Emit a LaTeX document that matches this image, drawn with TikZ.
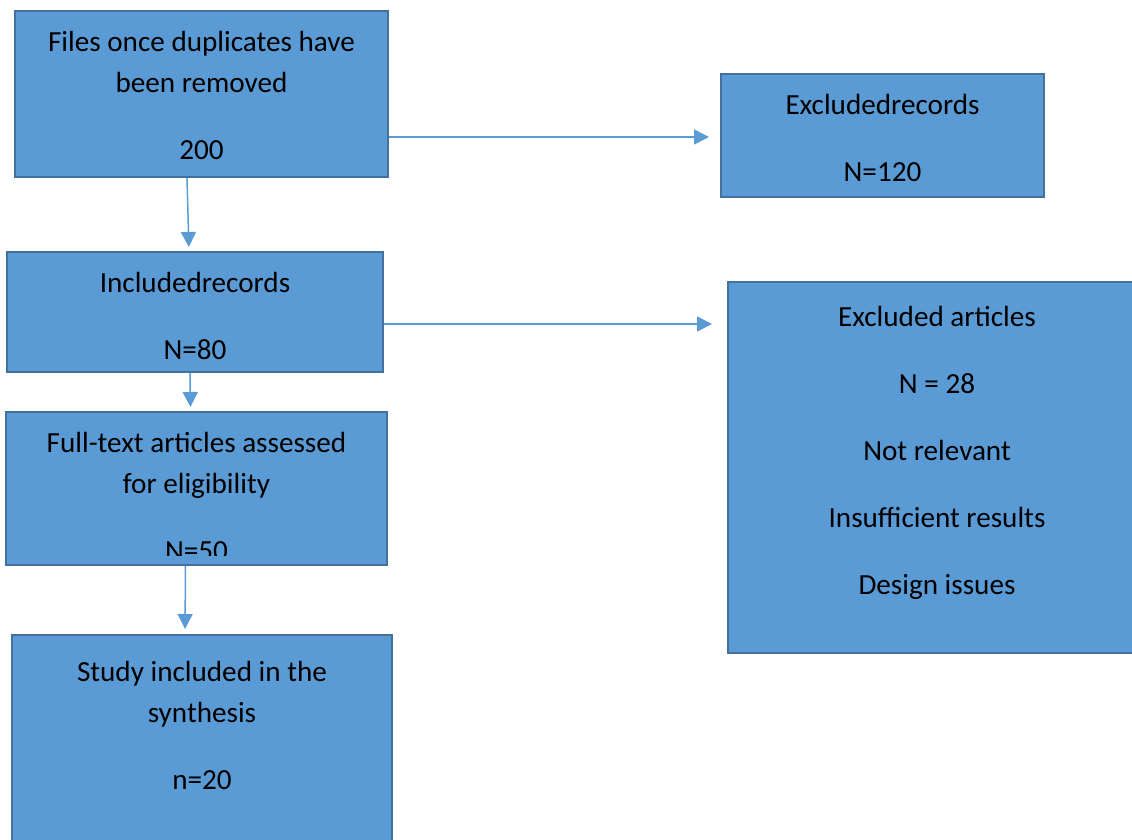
\documentclass[tikz,border=0pt]{standalone}
\usepackage{fontspec}
\setmainfont{Carlito}
\usetikzlibrary{arrows.meta, positioning}
\definecolor{boxfill}{HTML}{5B9BD5}
\definecolor{boxline}{HTML}{41719C}
\definecolor{flow}{HTML}{5B9BD5}

\begin{document}
\begin{tikzpicture}[
    x=1pt, y=-1pt,
    >={Triangle[length=15pt, width=15pt]},
    box/.style={draw=boxline, fill=boxfill, line width=2pt, anchor=north west, inner sep=0pt},
    % first line gets a 24pt strut, so north sits 24pt above its baseline
    txt/.style={font=\fontsize{29.17}{41}\selectfont, align=center, anchor=north, inner sep=0pt,
                execute at begin node=\rule{0pt}{24pt}},
    flowline/.style={->, draw=flow, fill=flow, line width=1.5pt},
]
\clip (0,0) rectangle (1132,840);
\fill[white] (0,0) rectangle (1132,840);

% boxes
\node[box, minimum width=373pt, minimum height=166pt] (files)  at (14,10)  {};
\node[box, minimum width=323pt, minimum height=123pt] (exrec)  at (720,73) {};
\node[box, minimum width=376pt, minimum height=120pt] (incl)   at (6,251)  {};
\node[box, minimum width=381pt, minimum height=153pt] (full)   at (5,411)  {};
\node[box, minimum width=380pt, minimum height=260pt] (study)  at (11,634) {};
\node[box, minimum width=418pt, minimum height=371pt] (exart)  at (727,281) {};

% box texts
\node[txt] (files-t) at ([yshift=-21pt]files.north) {Files once duplicates have\\been removed\\[26pt]200};
\node[txt] (exrec-t) at ([yshift=-21pt]exrec.north) {Excludedrecords\\[26pt]N=120};
\node[txt] (incl-t)  at ([yshift=-21pt]incl.north)  {Includedrecords\\[26pt]N=80};
\begin{scope}
  \clip (full.north west) rectangle ([yshift=11pt]full.south east);
  \node[txt] (full-t) at ([yshift=-21pt]full.north) {Full-text articles assessed\\for eligibility\\[26pt]N=50};
\end{scope}
\node[txt] (study-t) at ([yshift=-27pt]study.north) {Study included in the\\synthesis\\[26pt]n=20};
\node[txt] (exart-t) at ([yshift=-25pt]exart.north) {Excluded articles\\[26pt]N = 28\\[26pt]Not relevant\\[26pt]Insufficient results\\[26pt]Design issues};

% connectors
\draw[flowline, shorten >=4pt] ([xshift=-14.5pt]files.south) -- ([xshift=-6pt]incl.north);
\draw[flowline, shorten >=4pt] ([xshift=-5pt]incl.south) -- ([xshift=-6pt]full.north);
\draw[flowline, shorten >=5pt] ([xshift=-11pt]full.south) -- ([xshift=-17pt]study.north);
\draw[flowline, shorten >=11pt] ([yshift=-43pt]files.east) -- ([yshift=-43pt]files.east -| exrec.west);
\draw[flowline, shorten >=15pt] ([yshift=-12pt]incl.east) -- ([yshift=-12pt]incl.east -| exart.west);

\end{tikzpicture}
\end{document}
